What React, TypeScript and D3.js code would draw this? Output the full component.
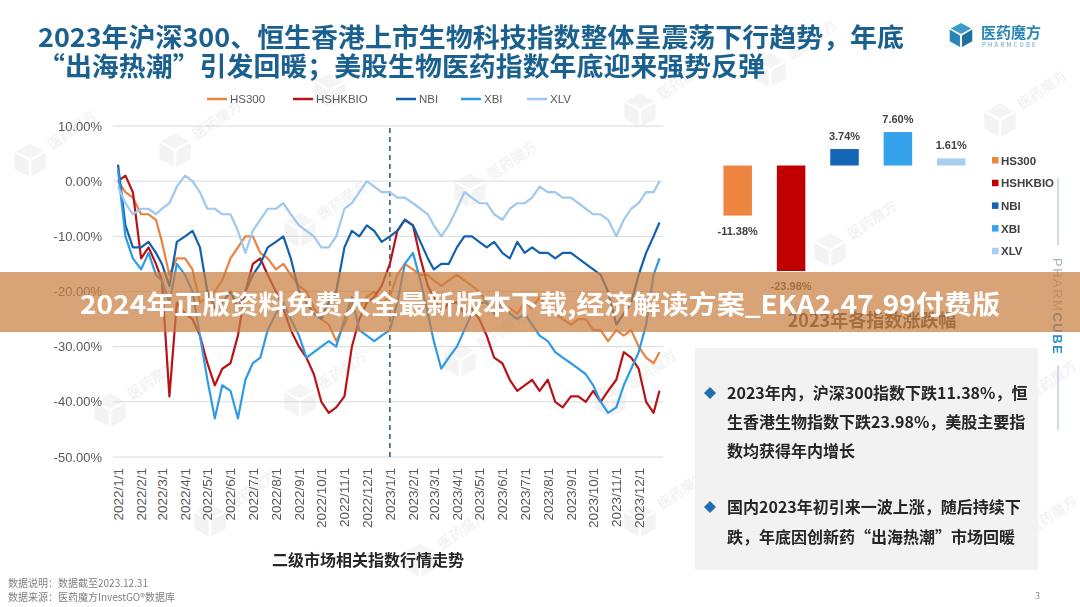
import React from 'react'
import * as d3 from 'd3'

// sample dates (1st / 11th / 21st of each month) for the index lines
const DATES = [
  '2022/1/1', '2022/1/11', '2022/1/21', '2022/2/1', '2022/2/11', '2022/2/21',
  '2022/3/1', '2022/3/11', '2022/3/21', '2022/4/1', '2022/4/11', '2022/4/21',
  '2022/5/1', '2022/5/11', '2022/5/21', '2022/6/1', '2022/6/11', '2022/6/21',
  '2022/7/1', '2022/7/11', '2022/7/21', '2022/8/1', '2022/8/11', '2022/8/21',
  '2022/9/1', '2022/9/11', '2022/9/21', '2022/10/1', '2022/10/11', '2022/10/21',
  '2022/11/1', '2022/11/11', '2022/11/21', '2022/12/1', '2022/12/11', '2022/12/21',
  '2023/1/1', '2023/1/11', '2023/1/21', '2023/2/1', '2023/2/11', '2023/2/21',
  '2023/3/1', '2023/3/11', '2023/3/21', '2023/4/1', '2023/4/11', '2023/4/21',
  '2023/5/1', '2023/5/11', '2023/5/21', '2023/6/1', '2023/6/11', '2023/6/21',
  '2023/7/1', '2023/7/11', '2023/7/21', '2023/8/1', '2023/8/11', '2023/8/21',
  '2023/9/1', '2023/9/11', '2023/9/21', '2023/10/1', '2023/10/11', '2023/10/21',
  '2023/11/1', '2023/11/11', '2023/11/21', '2023/12/1', '2023/12/11', '2023/12/21',
  '2023/12/29',
]

const HS300 = [
  0, -2, -3, -6, -6, -7, -11, -17, -14, -14, -16, -22,
  -21, -20, -18, -14, -12, -10, -10, -13, -14, -16, -15, -17,
  -19, -20, -23, -25, -26, -29, -26, -22, -23, -21, -20, -22,
  -21, -17, -15, -16, -17, -17, -18, -19, -18, -17, -18, -19,
  -20, -22, -24, -23, -23, -24, -22, -23, -21, -23, -24, -25,
  -26, -25, -25, -27, -27, -29, -27, -28, -27, -30, -32, -33,
  -31,
]
const HSHKBIO = [
  0, 1, -2, -14, -12, -15, -18, -39, -22, -24, -25, -28,
  -33, -37, -34, -33, -28, -20, -15, -14, -17, -20, -23, -27,
  -30, -32, -35, -40, -42, -41, -39, -30, -25, -22, -21, -19,
  -15, -9, -7, -8, -14, -19, -21, -24, -22, -22, -24, -23,
  -25, -28, -32, -33, -36, -38, -37, -36, -38, -36, -40, -41,
  -39, -39, -40, -38, -40, -38, -36, -31, -32, -34, -40, -42,
  -38,
]
const NBI = [
  3, -8, -12, -12, -11, -13, -15, -19, -11, -10, -9, -12,
  -20, -23, -22, -20, -23, -20, -17, -15, -12, -11, -10, -14,
  -20, -22, -24, -25, -22, -20, -12, -9, -10, -8, -9, -11,
  -10, -9, -7, -8, -11, -14, -16, -15, -15, -12, -10, -10,
  -11, -12, -11, -13, -14, -11, -13, -12, -13, -13, -14, -13,
  -13, -14, -15, -16, -17, -20, -26, -24, -22, -17, -13, -10,
  -7.5,
]
const XBI = [
  2, -10, -14, -16, -13, -17, -18, -22, -15, -17, -20, -28,
  -36, -43, -37, -38, -43, -36, -33, -32, -27, -24, -22, -25,
  -28, -32, -31, -30, -29, -30, -25, -21, -27, -28, -29, -28,
  -27, -22, -15, -13, -18, -24, -29, -34, -32, -30, -27, -24,
  -22, -22, -24, -22, -24, -25, -24, -26, -28, -29, -31, -32,
  -33, -34, -35, -37, -40, -42, -41, -37, -34, -31, -26, -17,
  -14,
]
const XLV = [
  -1, -4, -6, -5, -5, -6, -5, -4, -1, 1, 0, -2,
  -5, -5, -6, -6, -9, -13, -9, -7, -5, -5, -4, -6,
  -8, -9, -10, -12, -12, -10, -5, -4, -2, 0, -1, -2,
  -2, -3, -3, -4, -5, -6, -8, -10, -8, -5, -2, -3,
  -4, -4, -6, -7, -5, -4, -4, -3, -1, -2, -2, -3,
  -3, -4, -5, -6, -6, -7, -10, -7, -5, -4, -2, -2,
  0,
]

const NAMES = ['HS300', 'HSHKBIO', 'NBI', 'XBI', 'XLV']
const LINE_COLORS = ['#EA8240', '#B81418', '#1361AB', '#2F9BE6', '#9FC8EE']
const BAR_COLORS = ['#EE8541', '#C00000', '#1565B5', '#35A2EC', '#A8CFF1']
const YEAR_CHANGE = [-11.38, -23.98, 3.74, 7.6, 1.61]
const Y_TICKS = [10, 0, -10, -20, -30, -40, -50]

const BULLET1 = ['2023年内，沪深300指数下跌11.38%，恒', '生香港生物指数下跌23.98%，美股主要指', '数均获得年内增长']
const BULLET2 = ['国内2023年初引来一波上涨，随后持续下', '跌，年底因创新药“出海热潮”市场回暖']

const WATERMARKS = [
  [30, 160], [175, 150], [330, 90], [300, 230], [470, 190], [640, 110], [770, 70],
  [1000, 120], [830, 250], [1010, 410], [110, 410], [300, 400], [460, 360], [610, 400],
  [760, 470], [930, 440], [210, 520], [420, 560], [640, 520], [1010, 545],
]

const CJK = '"Noto Sans CJK SC", "Noto Sans", sans-serif'
const parse = d3.timeParse('%Y/%-m/%-d')

function Cube({ cx, cy, s, colors }: { cx: number; cy: number; s: number; colors: string[] }) {
  const k = 0.866 * s
  const g = s * 0.08
  const top = [[0, -s + g], [k - g, -s / 2], [0, -g], [-k + g, -s / 2]]
  const left = [[-k, -s / 2 + g], [-g, g * 0.6], [-g, s - g], [-k, s / 2 - g * 0.2]]
  const right = [[k, -s / 2 + g], [k, s / 2 - g * 0.2], [g, s - g], [g, g * 0.6]]
  const p = (pts: number[][]) => 'M' + pts.map(q => `${cx + q[0]},${cy + q[1]}`).join('L') + 'Z'
  return (
    <g>
      <path d={p(top)} fill={colors[0]} />
      <path d={p(left)} fill={colors[1]} />
      <path d={p(right)} fill={colors[2]} />
    </g>
  )
}

export default function App() {
  const dates = DATES.map(d => parse(d) as Date)
  const values = [HS300, HSHKBIO, NBI, XBI, XLV]

  const x = d3.scaleTime().domain([new Date(2022, 0, 1), new Date(2023, 11, 31)]).range([118, 661])
  const y = d3.scaleLinear().domain([-50, 10]).range([457, 126])
  const months = d3.timeMonth.range(new Date(2022, 0, 1), new Date(2024, 0, 1))
  const fmtTick = d3.timeFormat('%Y/%-m/%-d')
  // plain hyphen for negatives, as in the source slide
  const fmtPct = (v: number) => d3.format('.2f')(v).replace('\u2212', '-') + '%'

  const line = d3.line<number>()
    .x((_, i) => x(dates[i]))
    .y(v => y(v))

  const bx = d3.scaleBand().domain(NAMES).range([711, 978]).paddingInner(0.466).paddingOuter(0.233)
  const by = d3.scaleLinear().domain([-30, 10]).range([297.5, 121.5])

  const legendX = [207, 293, 396, 461, 527]

  return (
    <svg width={1080} height={607} style={{ position: 'absolute', left: 0, top: 0, background: '#fff' }}
      fontFamily={CJK}>
      <rect width={1080} height={607} fill="#fff" />

      {/* watermarks */}
      <g opacity={0.06}>
        {WATERMARKS.map(([wx, wy], i) => (
          <g key={i}>
            <Cube cx={wx} cy={wy} s={18} colors={['#555', '#333', '#444']} />
            <text x={wx + 22} y={wy - 10} fontSize={14} fill="#333" fontWeight={700}
              transform={`rotate(-35 ${wx + 22} ${wy - 10})`}>医药魔方</text>
          </g>
        ))}
      </g>

      {/* title */}
      <g fill="#1B6190" fontWeight={700} fontSize={26}>
        <text x={38} y={47} textLength={866} lengthAdjust="spacingAndGlyphs">
          2023年沪深300、恒生香港上市生物科技指数整体呈震荡下行趋势，年底
        </text>
        <text x={38} y={76} textLength={727} lengthAdjust="spacingAndGlyphs">
          “出海热潮”引发回暖；美股生物医药指数年底迎来强势反弹
        </text>
      </g>

      {/* logo */}
      <Cube cx={961} cy={35} s={13} colors={['#3E9CCB', '#2A84B5', '#1F6FA0']} />
      <text x={981} y={38} fontSize={15} fill="#2A86B8" fontWeight={700} textLength={60}>医药魔方</text>
      <text x={982} y={47} fontSize={6} fill="#6A9FBE" letterSpacing={2.2}>PHARMCUBE</text>

      {/* line legend */}
      <g fontSize={11.5} fill="#595959" fontFamily='"Liberation Sans", sans-serif'>
        {NAMES.map((n, i) => (
          <g key={n}>
            <line x1={legendX[i]} x2={legendX[i] + 20} y1={99} y2={99} stroke={LINE_COLORS[i]} strokeWidth={2.5} />
            <text x={legendX[i] + 23} y={103}>{n}</text>
          </g>
        ))}
      </g>

      {/* grid + y axis */}
      <g>
        {Y_TICKS.map(t => (
          <g key={t}>
            <line x1={113} x2={663} y1={y(t)} y2={y(t)} stroke="#D9D9D9" strokeWidth={1} />
            <text x={102} y={y(t) + 4.5} textAnchor="end" fontSize={13} fill="#595959"
              fontFamily='"Liberation Sans", sans-serif'>{fmtPct(t)}</text>
          </g>
        ))}
      </g>

      {/* x axis labels */}
      <g fontSize={13.5} fill="#595959" fontFamily='"Liberation Sans Narrow", "Liberation Sans", sans-serif'>
        {months.map(m => (
          <text key={+m} transform={`translate(${x(m) + 5},${468}) rotate(-90)`} textAnchor="end">
            {fmtTick(m)}
          </text>
        ))}
      </g>

      {/* year divider */}
      <line x1={x(new Date(2023, 0, 1))} x2={x(new Date(2023, 0, 1))} y1={128} y2={460}
        stroke="#3A6A92" strokeWidth={1.7} strokeDasharray="5,4" />

      {/* index lines */}
      <g fill="none" strokeWidth={2.2} strokeLinejoin="round">
        {values.map((vals, i) => (
          <path key={NAMES[i]} d={line(vals) || ''} stroke={LINE_COLORS[i]} />
        ))}
      </g>

      <text x={368} y={566} textAnchor="middle" fontSize={16} fontWeight={700} fill="#262626">
        二级市场相关指数行情走势
      </text>

      {/* bar chart */}
      <g>
        {YEAR_CHANGE.map((v, i) => {
          const n = NAMES[i]
          const top = by(Math.max(0, v))
          const h = Math.abs(by(v) - by(0))
          return (
            <g key={n}>
              <rect x={bx(n)} y={top} width={bx.bandwidth()} height={h} fill={BAR_COLORS[i]} />
              <text x={(bx(n) || 0) + bx.bandwidth() / 2} y={v >= 0 ? by(v) - 9 : by(v) + 19}
                textAnchor="middle" fontSize={11} fontWeight={700} fill="#404040"
                fontFamily='"Liberation Sans", sans-serif'>{fmtPct(v)}</text>
            </g>
          )
        })}
        {NAMES.map((n, i) => (
          <g key={n}>
            <rect x={992} y={157 + i * 22.7} width={6.5} height={6.5} fill={BAR_COLORS[i]} />
            <text x={1001} y={164.5 + i * 22.7} fontSize={11.5} fontWeight={700} fill="#404040"
              fontFamily='"Liberation Sans", sans-serif'>{n}</text>
          </g>
        ))}
        <text x={872} y={327} textAnchor="middle" fontSize={18} fontWeight={700} fill="#404040">
          2023年各指数涨跌幅
        </text>
      </g>

      {/* side brand */}
      <line x1={1058} x2={1058} y1={178} y2={245} stroke="#BFD3DE" strokeWidth={1.5} />
      <line x1={1058} x2={1058} y1={365} y2={430} stroke="#BFD3DE" strokeWidth={1.5} />
      <text transform="translate(1053,258) rotate(90)" fontSize={13} letterSpacing={1.5}
        fontFamily='"Liberation Sans", sans-serif'>
        <tspan fill="#A9B4BC">PHARM</tspan>
        <tspan fill="#2A8FC4" fontWeight={700}>CUBE</tspan>
      </text>

      {/* notes box */}
      <rect x={695} y={348} width={343} height={222} fill="#F2F2F2" />
      <g fontSize={16} fontWeight={700} fill="#262626">
        <path d="M710,387 L716,393 L710,399 L704,393 Z" fill="#1F6FAF" />
        {BULLET1.map((t, i) => (
          <text key={t} x={727} y={399 + i * 29}>{t}</text>
        ))}
        <path d="M710,501 L716,507 L710,513 L704,507 Z" fill="#1F6FAF" />
        {BULLET2.map((t, i) => (
          <text key={t} x={727} y={513 + i * 30}>{t}</text>
        ))}
      </g>

      {/* footer */}
      <g fontSize={10} fill="#7F7F7F">
        <text x={8} y={587}>数据说明：数据截至2023.12.31</text>
        <text x={8} y={601}>数据来源：医药魔方InvestGO®数据库</text>
      </g>
      <text x={1035} y={599} fontSize={9} fill="#8C8C8C">3</text>

      {/* overlay banner */}
      <rect x={0} y={272} width={1080} height={60} fill="rgb(200,128,66)" opacity={0.72} />
      <text x={540} y={314} textAnchor="middle" fontSize={26} fontWeight={700} fill="#fff"
        textLength={920} lengthAdjust="spacingAndGlyphs">
        2024年正版资料免费大全最新版本下载,经济解读方案_EKA2.47.99付费版
      </text>
    </svg>
  )
}
